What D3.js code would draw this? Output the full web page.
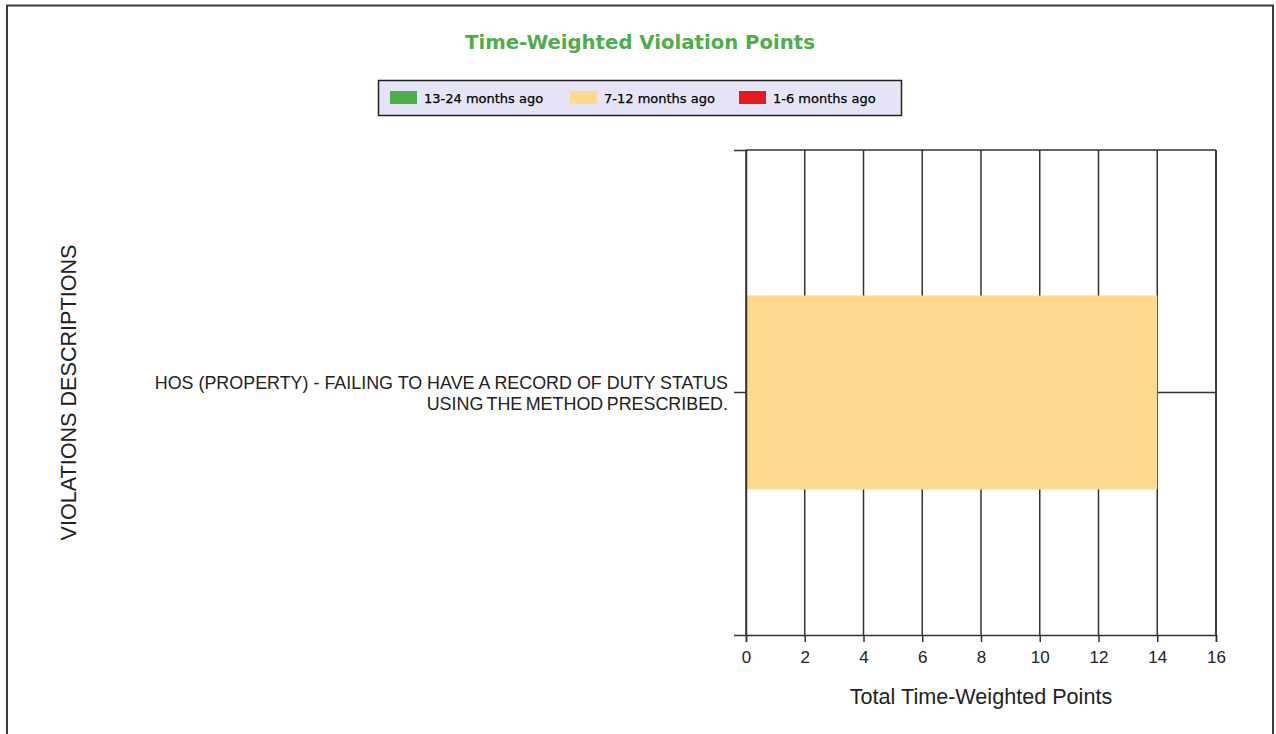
<!DOCTYPE html>
<html>
<head>
<meta charset="utf-8">
<script src="https://cdn.jsdelivr.net/npm/d3@7"></script>
<style>
  body { margin: 0; background: #fff; }
  svg { display: block; }
</style>
</head>
<body>
<script>
// chart data
var categories = ["HOS (PROPERTY) - FAILING TO HAVE A RECORD OF DUTY STATUS|USING THE METHOD PRESCRIBED."];
var seriesNames = ["13-24 months ago", "7-12 months ago", "1-6 months ago"];
var seriesColors = ["#4dae4a", "#fed98f", "#e41a1c"];
var months13to24 = [0];
var months7to12 = [14];
var months1to6 = [0];
var xTicks = [0, 2, 4, 6, 8, 10, 12, 14, 16];

var width = 1276, height = 734;
var plotLeft = 746, plotRight = 1216, plotTop = 150, plotBottom = 635;

var svg = d3.select("body").append("svg")
    .attr("width", width)
    .attr("height", height);

// outer frame
svg.append("rect")
    .attr("x", 7)
    .attr("y", 5.5)
    .attr("width", 1266)
    .attr("height", 760)
    .attr("fill", "none")
    .attr("stroke", "#3a3a3a")
    .attr("stroke-width", 2);

// title
svg.append("text")
    .attr("x", 640)
    .attr("y", 49)
    .attr("text-anchor", "middle")
    .attr("font-family", "DejaVu Sans")
    .attr("font-weight", "bold")
    .attr("font-size", 19.7)
    .attr("fill", "#4dae4a")
    .text("Time-Weighted Violation Points");

// legend
var legend = svg.append("g");
legend.append("rect")
    .attr("x", 378.5)
    .attr("y", 80.5)
    .attr("width", 523)
    .attr("height", 35)
    .attr("fill", "#e5e5f7")
    .attr("stroke", "#222")
    .attr("stroke-width", 1.5);

var legendX = [390, 570, 739];
seriesNames.forEach(function(name, i){
    legend.append("rect")
        .attr("x", legendX[i])
        .attr("y", 91)
        .attr("width", 27)
        .attr("height", 13)
        .attr("fill", seriesColors[i]);
    legend.append("text")
        .attr("x", legendX[i] + 34)
        .attr("y", 103)
        .attr("font-family", "DejaVu Sans")
        .attr("font-size", 13)
        .attr("fill", "#000")
        .attr("stroke", "#000")
        .attr("stroke-width", 0.25)
        .text(name);
});

// scales
var x = d3.scaleLinear()
    .domain([0, 16])
    .range([plotLeft, plotRight]);

var y = d3.scaleBand()
    .domain(categories)
    .range([plotTop, plotBottom])
    .paddingInner(0.6)
    .paddingOuter(0.3);

var gridColor = "#333";

// vertical grid lines
svg.append("g").selectAll("line")
    .data(xTicks)
    .enter().append("line")
    .attr("x1", function(d){ return x(d); })
    .attr("x2", function(d){ return x(d); })
    .attr("y1", plotTop)
    .attr("y2", plotBottom)
    .attr("stroke", gridColor)
    .attr("stroke-width", 1.5);

// horizontal grid line at category centre, top border
svg.append("g").selectAll("line")
    .data(categories)
    .enter().append("line")
    .attr("x1", plotLeft)
    .attr("x2", plotRight)
    .attr("y1", function(d){ return y(d) + y.bandwidth() / 2; })
    .attr("y2", function(d){ return y(d) + y.bandwidth() / 2; })
    .attr("stroke", gridColor)
    .attr("stroke-width", 1.5);

svg.append("line")
    .attr("x1", plotLeft)
    .attr("x2", plotRight)
    .attr("y1", plotTop)
    .attr("y2", plotTop)
    .attr("stroke", gridColor)
    .attr("stroke-width", 1.5);

// stacked bars
var rows = categories.map(function(c, i){
    return { cat: c, s0: months13to24[i], s1: months7to12[i], s2: months1to6[i] };
});
var stack = d3.stack().keys(["s0", "s1", "s2"]);
var layers = stack(rows);

svg.append("g").selectAll("g")
    .data(layers)
    .enter().append("g")
    .attr("fill", function(d, i){ return seriesColors[i]; })
    .selectAll("rect")
    .data(function(d){ return d; })
    .enter().append("rect")
    .attr("x", function(d){ return x(d[0]); })
    .attr("width", function(d){ return x(d[1]) - x(d[0]); })
    .attr("y", function(d){ return y(d.data.cat); })
    .attr("height", y.bandwidth());

// axes
var xAxis = svg.append("g")
    .attr("transform", "translate(0," + plotBottom + ")")
    .call(d3.axisBottom(x).tickValues(xTicks).tickSize(7).tickSizeOuter(7).tickPadding(9));

var yAxis = svg.append("g")
    .attr("transform", "translate(" + plotLeft + ",0)")
    .call(d3.axisLeft(y).tickSize(12).tickSizeOuter(12).tickFormat(""));

[xAxis, yAxis].forEach(function(a){
    a.selectAll("path, line")
        .attr("stroke", gridColor)
        .attr("stroke-width", 1.5);
});

xAxis.selectAll("text")
    .attr("font-family", "Liberation Sans")
    .attr("font-size", 17)
    .attr("fill", "#222");

// right border
svg.append("line")
    .attr("x1", plotRight)
    .attr("x2", plotRight)
    .attr("y1", plotTop)
    .attr("y2", plotBottom)
    .attr("stroke", gridColor)
    .attr("stroke-width", 1.5);

// category labels, two lines, right aligned
categories.forEach(function(c){
    var lines = c.split("|");
    var cy = y(c) + y.bandwidth() / 2;
    var t = svg.append("text")
        .attr("text-anchor", "end")
        .attr("font-family", "Liberation Sans")
        .attr("font-size", 17.9)
        .attr("fill", "#222");
    lines.forEach(function(l, i){
        var ts = t.append("tspan")
            .attr("x", 728)
            .attr("y", cy - 4 + i * 21)
            .text(l);
        if (i === 1) ts.attr("word-spacing", -1.5);
    });
});

// axis titles
svg.append("text")
    .attr("x", (plotLeft + plotRight) / 2)
    .attr("y", 704)
    .attr("text-anchor", "middle")
    .attr("font-family", "Liberation Sans")
    .attr("font-size", 21.6)
    .attr("fill", "#222")
    .text("Total Time-Weighted Points");

svg.append("text")
    .attr("transform", "translate(76," + ((plotTop + plotBottom) / 2) + ") rotate(-90)")
    .attr("text-anchor", "middle")
    .attr("font-family", "Liberation Sans")
    .attr("font-size", 21.6)
    .attr("fill", "#222")
    .text("VIOLATIONS DESCRIPTIONS");
</script>
</body>
</html>
